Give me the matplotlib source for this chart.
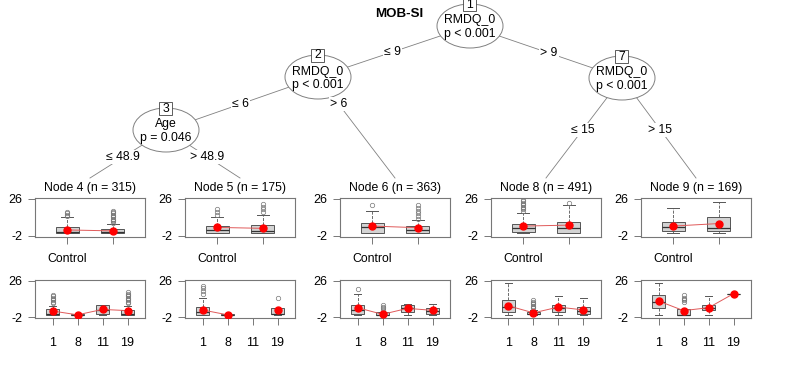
import numpy as np
import matplotlib.pyplot as plt
from matplotlib.patches import Ellipse, Rectangle

plt.rcParams['font.family'] = ['Liberation Sans', 'DejaVu Sans']

W, H = 789, 376

title = 'MOB-SI'

# inner nodes: id, variable, p-value text
inner_ids = [1, 2, 3, 7]
inner_var = ['RMDQ_0', 'RMDQ_0', 'Age', 'RMDQ_0']
inner_p = ['p < 0.001', 'p < 0.001', 'p = 0.046', 'p < 0.001']

# edges: parent, child, split label
edge_parent = [1, 1, 2, 2, 3, 3, 7, 7]
edge_child = [2, 7, 3, 6, 4, 5, 8, 9]
edge_label = ['≤ 9', '> 9', '≤ 6', '> 6', '≤ 48.9', '> 48.9', '≤ 15', '> 15']

# terminal nodes
node_ids = [4, 5, 6, 8, 9]
node_n = [315, 175, 363, 491, 169]
group_label = 'Control'
visit_labels = ['1', '8', '11', '19']

# box stats per group: (whislo, q1, med, q3, whishi, mean, fliers); None = no data
node4_top = [(0, 0, 1, 5, 12, 2.5, [13, 14, 15, 16]),
             (0, 0, 1, 3, 7, 1.8, [8, 9, 10, 11, 12, 13, 14, 15, 16, 17])]
node4_bottom = [(0, 0, 1, 4.4, 7, 2.9, [9, 10, 11, 12, 13, 14, 15]),
                (0, 0, 0, 0.5, 0.5, 0, []),
                (0, 1, 4, 7.4, 7.4, 4.1, []),
                (0, 0, 1, 3.7, 7, 3.2, [9, 10, 11, 12, 13, 14, 15, 16, 17])]
node5_top = [(0, 0, 2.5, 5.4, 12, 4.4, [14, 16, 18]),
             (0, 0, 2, 6, 14, 3.7, [16, 18, 20, 22])]
node5_bottom = [(0, 0, 2, 6, 13, 3.7, [16, 18, 20, 22]),
                (0, 0, 0, 0.5, 0.5, 0, []),
                None,
                (0, 0.5, 1, 5, 5, 3.7, [12.5])]
node6_top = [(0, 0, 5, 8, 17, 5.4, [21]),
             (0, 0, 2.5, 5.4, 10, 4.2, [11, 13, 15, 17, 19, 21])]
node6_bottom = [(0, 0.7, 4, 7.8, 16, 5.4, [19.6]),
                (0, 0, 0, 1.9, 2.5, 0.4, [3.7, 5, 6, 7.4]),
                (0, 1.9, 5, 7.4, 8.5, 4.9, []),
                (0, 0.7, 3, 5.4, 8.5, 3.4, [])]
node8_top = [(0, 0.8, 3.7, 6.9, 15, 5.4, [17, 18, 19, 20, 21, 22, 23, 24, 25]),
             (0, 0, 3.7, 8.5, 21, 6.1, [23])]
node8_bottom = [(0, 2.4, 6, 11, 24, 6.8, []),
                (0, 0.4, 1, 2.4, 4, 1.5, [5, 6, 7, 8, 9, 10, 11]),
                (0, 1.9, 5.5, 7.8, 14, 5.9, []),
                (0, 1, 3, 6.1, 12.7, 3.7, [])]
node9_top = [(0, 2, 4.4, 8.5, 18.7, 5.4, []),
             (0, 2, 4, 12.2, 23.6, 7.3, [])]
node9_bottom = [(0, 4.9, 10, 14.7, 24, 10.5, []),
                (0, 0, 0, 4.1, 4.1, 3.2, [10, 11, 12, 13, 14.7]),
                (0, 3.7, 5, 7.4, 14, 5.4, []),
                (16, 16, 16, 16, 16, 16, [])]

top_stats = [node4_top, node5_top, node6_top, node8_top, node9_top]
bottom_stats = [node4_bottom, node5_bottom, node6_bottom, node8_bottom, node9_bottom]

# layout (pixels)
inner_xy = {1: (470, 26), 2: (318, 77), 3: (166, 130), 7: (622, 78)}
label_y = {2: 52, 7: 53, 3: 104, 6: 104, 4: 157, 5: 157, 8: 130, 9: 130}
panel_left = {4: 35, 5: 185, 6: 340, 8: 491, 9: 641}
panel_w = 110
term_top = 178

fig = plt.figure(figsize=(W / 100, H / 100), dpi=100)
ax = fig.add_axes([0, 0, 1, 1])
ax.set_xlim(0, W)
ax.set_ylim(H, 0)
ax.axis('off')

ax.text(399, 14, title, ha='center', va='center', fontsize=9.6, fontweight='bold')


def node_xy(k):
    if k in inner_xy:
        return inner_xy[k]
    return (panel_left[k] + panel_w / 2, term_top)


# edges
for p, c, lab in zip(edge_parent, edge_child, edge_label):
    x0, y0 = node_xy(p)
    x1, y1 = node_xy(c)
    ax.plot([x0, x1], [y0, y1], color='#808080', lw=0.6, zorder=1)
    ly = label_y[c]
    lx = x0 + (ly - y0) / (y1 - y0) * (x1 - x0)
    ax.text(lx, ly, lab, ha='center', va='center', fontsize=8.8, zorder=3,
            bbox=dict(fc='white', ec='none', pad=0.8))

# inner nodes
for k, var, pv in zip(inner_ids, inner_var, inner_p):
    x, y = inner_xy[k]
    ax.add_patch(Ellipse((x, y), 66, 44, fc='white', ec='#808080', lw=0.7, zorder=2))
    ax.text(x, y - 5.5, var, ha='center', va='center', fontsize=8.8, zorder=3)
    ax.text(x, y + 8, pv, ha='center', va='center', fontsize=8.8, zorder=3)
    ax.add_patch(Rectangle((x - 6.5, y - 28.5), 13, 13, fc='white', ec='#444444',
                           lw=0.6, zorder=3))
    ax.text(x, y - 21.5, str(k), ha='center', va='center', fontsize=8.8, zorder=4)


def px_axes(left, top, w, h):
    return fig.add_axes([left / W, 1 - (top + h) / H, w / W, h / H])


def draw_box(a, stats, xmax):
    pos, bx, means = [], [], []
    for i, s in enumerate(stats):
        if s is None:
            means.append(np.nan)
            continue
        lo, q1, med, q3, hi, mn, fl = s
        pos.append(i + 1)
        bx.append(dict(whislo=lo, q1=q1, med=med, q3=q3, whishi=hi, fliers=fl))
        means.append(mn)
    a.bxp(bx, positions=pos, widths=0.5, capwidths=0.25, patch_artist=True,
          boxprops=dict(facecolor='#d3d3d3', edgecolor='#555555', lw=0.7),
          whiskerprops=dict(color='#555555', ls='--', lw=0.6),
          capprops=dict(color='#555555', lw=0.7),
          medianprops=dict(color='#333333', lw=0.9),
          flierprops=dict(marker='o', mfc='none', mec='#777777', ms=3.2, mew=0.5))
    xs = np.arange(1, len(stats) + 1)
    a.plot(xs, means, '-', color='#e05a5a', lw=0.7, zorder=4)
    a.plot(xs, means, 'o', color='red', ms=5, zorder=5)
    a.set_xlim(0.3, xmax)
    a.set_ylim(-2.4, 26.4)
    a.set_yticks([26, -2])
    a.set_yticklabels(['26', '-2'], fontsize=9)
    for sp in a.spines.values():
        sp.set_color('#777777')
        sp.set_linewidth(0.8)
    a.tick_params(direction='out', length=5, width=0.7, color='#777777', pad=4)


for j, k in enumerate(node_ids):
    left = panel_left[k]
    ax.text(left + panel_w / 2, 188, f'Node {k} (n = {node_n[j]})',
            ha='center', va='center', fontsize=8.8)
    ax.text(left + 32, 259, group_label, ha='center', va='center', fontsize=8.8)

    a1 = px_axes(left, 198, panel_w, 38.5)
    draw_box(a1, top_stats[j], 2.7)
    a1.set_xticks([1, 2])
    a1.set_xticklabels([])

    a2 = px_axes(left, 280, panel_w, 38)
    draw_box(a2, bottom_stats[j], 4.7)
    a2.set_xticks([1, 2, 3, 4])
    a2.set_xticklabels(visit_labels, fontsize=9)
    a2.tick_params(axis='x', pad=9)

fig.savefig('out.png', dpi=100)
